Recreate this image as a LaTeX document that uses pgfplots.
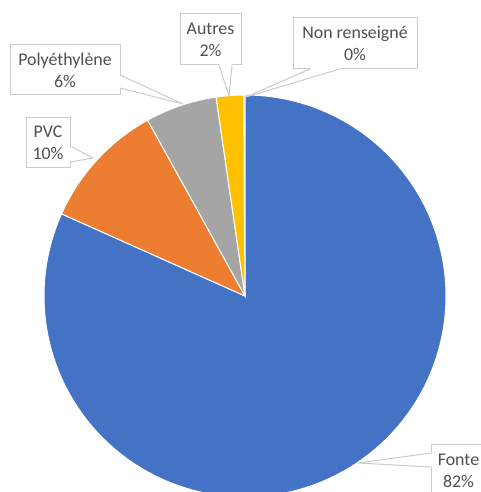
\documentclass[border=0pt]{standalone}
\usepackage{pgfplots}
\pgfplotsset{compat=1.18}
\usepackage{pgfplotstable}
\usepackage{fontspec}
\setmainfont{Carlito}
\definecolor{cFonte}{HTML}{4472C4}
\definecolor{cPVC}{HTML}{ED7D31}
\definecolor{cPoly}{HTML}{A5A5A5}
\definecolor{cAutres}{HTML}{FFC000}
\definecolor{cNR}{HTML}{5B9BD5}
\definecolor{boxgray}{HTML}{CCCCCC}
\definecolor{labelgray}{HTML}{505050}

\pgfplotstableread{
name value
Fonte 81.7
PVC 10.25
Polyethylene 5.75
Autres 2.2
NonRenseigne 0.1
}\piedata

\tikzset{lbl/.style={draw=boxgray, line width=0.75pt, fill=white, align=center, inner sep=0pt,
  text=labelgray, font=\fontsize{13.4pt}{16.4pt}\selectfont},
  ptr/.style={draw=boxgray, line width=0.75pt}}

\begin{document}%
\begin{tikzpicture}
\pgfplotstablegetelem{0}{value}\of\piedata\let\vA\pgfplotsretval
\pgfplotstablegetelem{1}{value}\of\piedata\let\vB\pgfplotsretval
\pgfplotstablegetelem{2}{value}\of\piedata\let\vC\pgfplotsretval
\pgfplotstablegetelem{3}{value}\of\piedata\let\vD\pgfplotsretval
\pgfplotstablegetelem{4}{value}\of\piedata\let\vE\pgfplotsretval
\pgfmathsetmacro\aA{90-3.6*\vA}
\pgfmathsetmacro\aB{\aA-3.6*\vB}
\pgfmathsetmacro\aC{\aB-3.6*\vC}
\pgfmathsetmacro\aD{\aC-3.6*\vD}
\pgfmathsetmacro\aE{\aD-3.6*\vE}
\path[use as bounding box, clip] (0,0) rectangle (360.75pt,369pt);
\begin{axis}[at={(0,0)}, anchor=south west, scale only axis,
  width=360.75pt, height=369pt,
  xmin=-245, xmax=236, ymin=-196, ymax=296,
  hide axis, clip=false]
\addplot[fill=cNR, draw=white, line width=0.5pt, domain=\aE:\aD, samples=5] ({201*cos(x)},{201*sin(x)}) -- (axis cs:0,0) -- cycle;
\addplot[fill=cFonte, draw=white, line width=0.75pt, domain=\aA:90, samples=200] ({201*cos(x)},{201*sin(x)}) -- (axis cs:0,0) -- cycle;
\addplot[fill=cPVC, draw=white, line width=0.75pt, domain=\aB:\aA, samples=40] ({201*cos(x)},{201*sin(x)}) -- (axis cs:0,0) -- cycle;
\addplot[fill=cPoly, draw=white, line width=0.75pt, domain=\aC:\aB, samples=30] ({201*cos(x)},{201*sin(x)}) -- (axis cs:0,0) -- cycle;
\addplot[fill=cAutres, draw=white, line width=0.75pt, domain=\aD:\aC, samples=15] ({201*cos(x)},{201*sin(x)}) -- (axis cs:0,0) -- cycle;

% Autres
\node[lbl, minimum width=45.75pt, minimum height=38.25pt] at (axis cs:-34.5,256.5) {Autres\\2\%};
\fill[white] (axis cs:-26,233) -- (axis cs:-26,231) -- (axis cs:-16,200) -- (axis cs:-13,231) -- (axis cs:-13,233) -- cycle;
\draw[ptr] (axis cs:-26,231) -- (axis cs:-16,200) -- (axis cs:-13,231);
% Non renseigne
\node[lbl, minimum width=93pt, minimum height=38.25pt] at (axis cs:110,252.5) {Non renseigné\\0\%};
\fill[white] (axis cs:65,229) -- (axis cs:65,227) -- (axis cs:1,199) -- (axis cs:95,227) -- (axis cs:95,229) -- cycle;
\draw[ptr] (axis cs:65,227) -- (axis cs:1,199) -- (axis cs:95,227);
% Polyethylene
\node[lbl, minimum width=82.5pt, minimum height=37.5pt] at (axis cs:-180,226) {Polyéthylène\\6\%};
\fill[white] (axis cs:-127,221) -- (axis cs:-125,221) -- (axis cs:-62,192) -- (axis cs:-125,208) -- (axis cs:-127,208) -- cycle;
\draw[ptr] (axis cs:-125,221) -- (axis cs:-62,192) -- (axis cs:-125,208);
% PVC
\node[lbl, minimum width=33pt, minimum height=37.5pt] at (axis cs:-197,153) {PVC\\10\%};
\fill[white] (axis cs:-177,150) -- (axis cs:-175,150) -- (axis cs:-152,138) -- (axis cs:-175,134) -- (axis cs:-177,134) -- cycle;
\draw[ptr] (axis cs:-175,150) -- (axis cs:-152,138) -- (axis cs:-175,134);
% Fonte
\node[lbl, minimum width=41.25pt, minimum height=38.25pt] at (axis cs:213.5,-174.5) {Fonte\\82\%};
\fill[white] (axis cs:188,-157) -- (axis cs:186,-157) -- (axis cs:113,-167) -- (axis cs:186,-171) -- (axis cs:188,-171) -- cycle;
\draw[ptr] (axis cs:186,-157) -- (axis cs:113,-167) -- (axis cs:186,-171);
\end{axis}
\end{tikzpicture}%
\end{document}
